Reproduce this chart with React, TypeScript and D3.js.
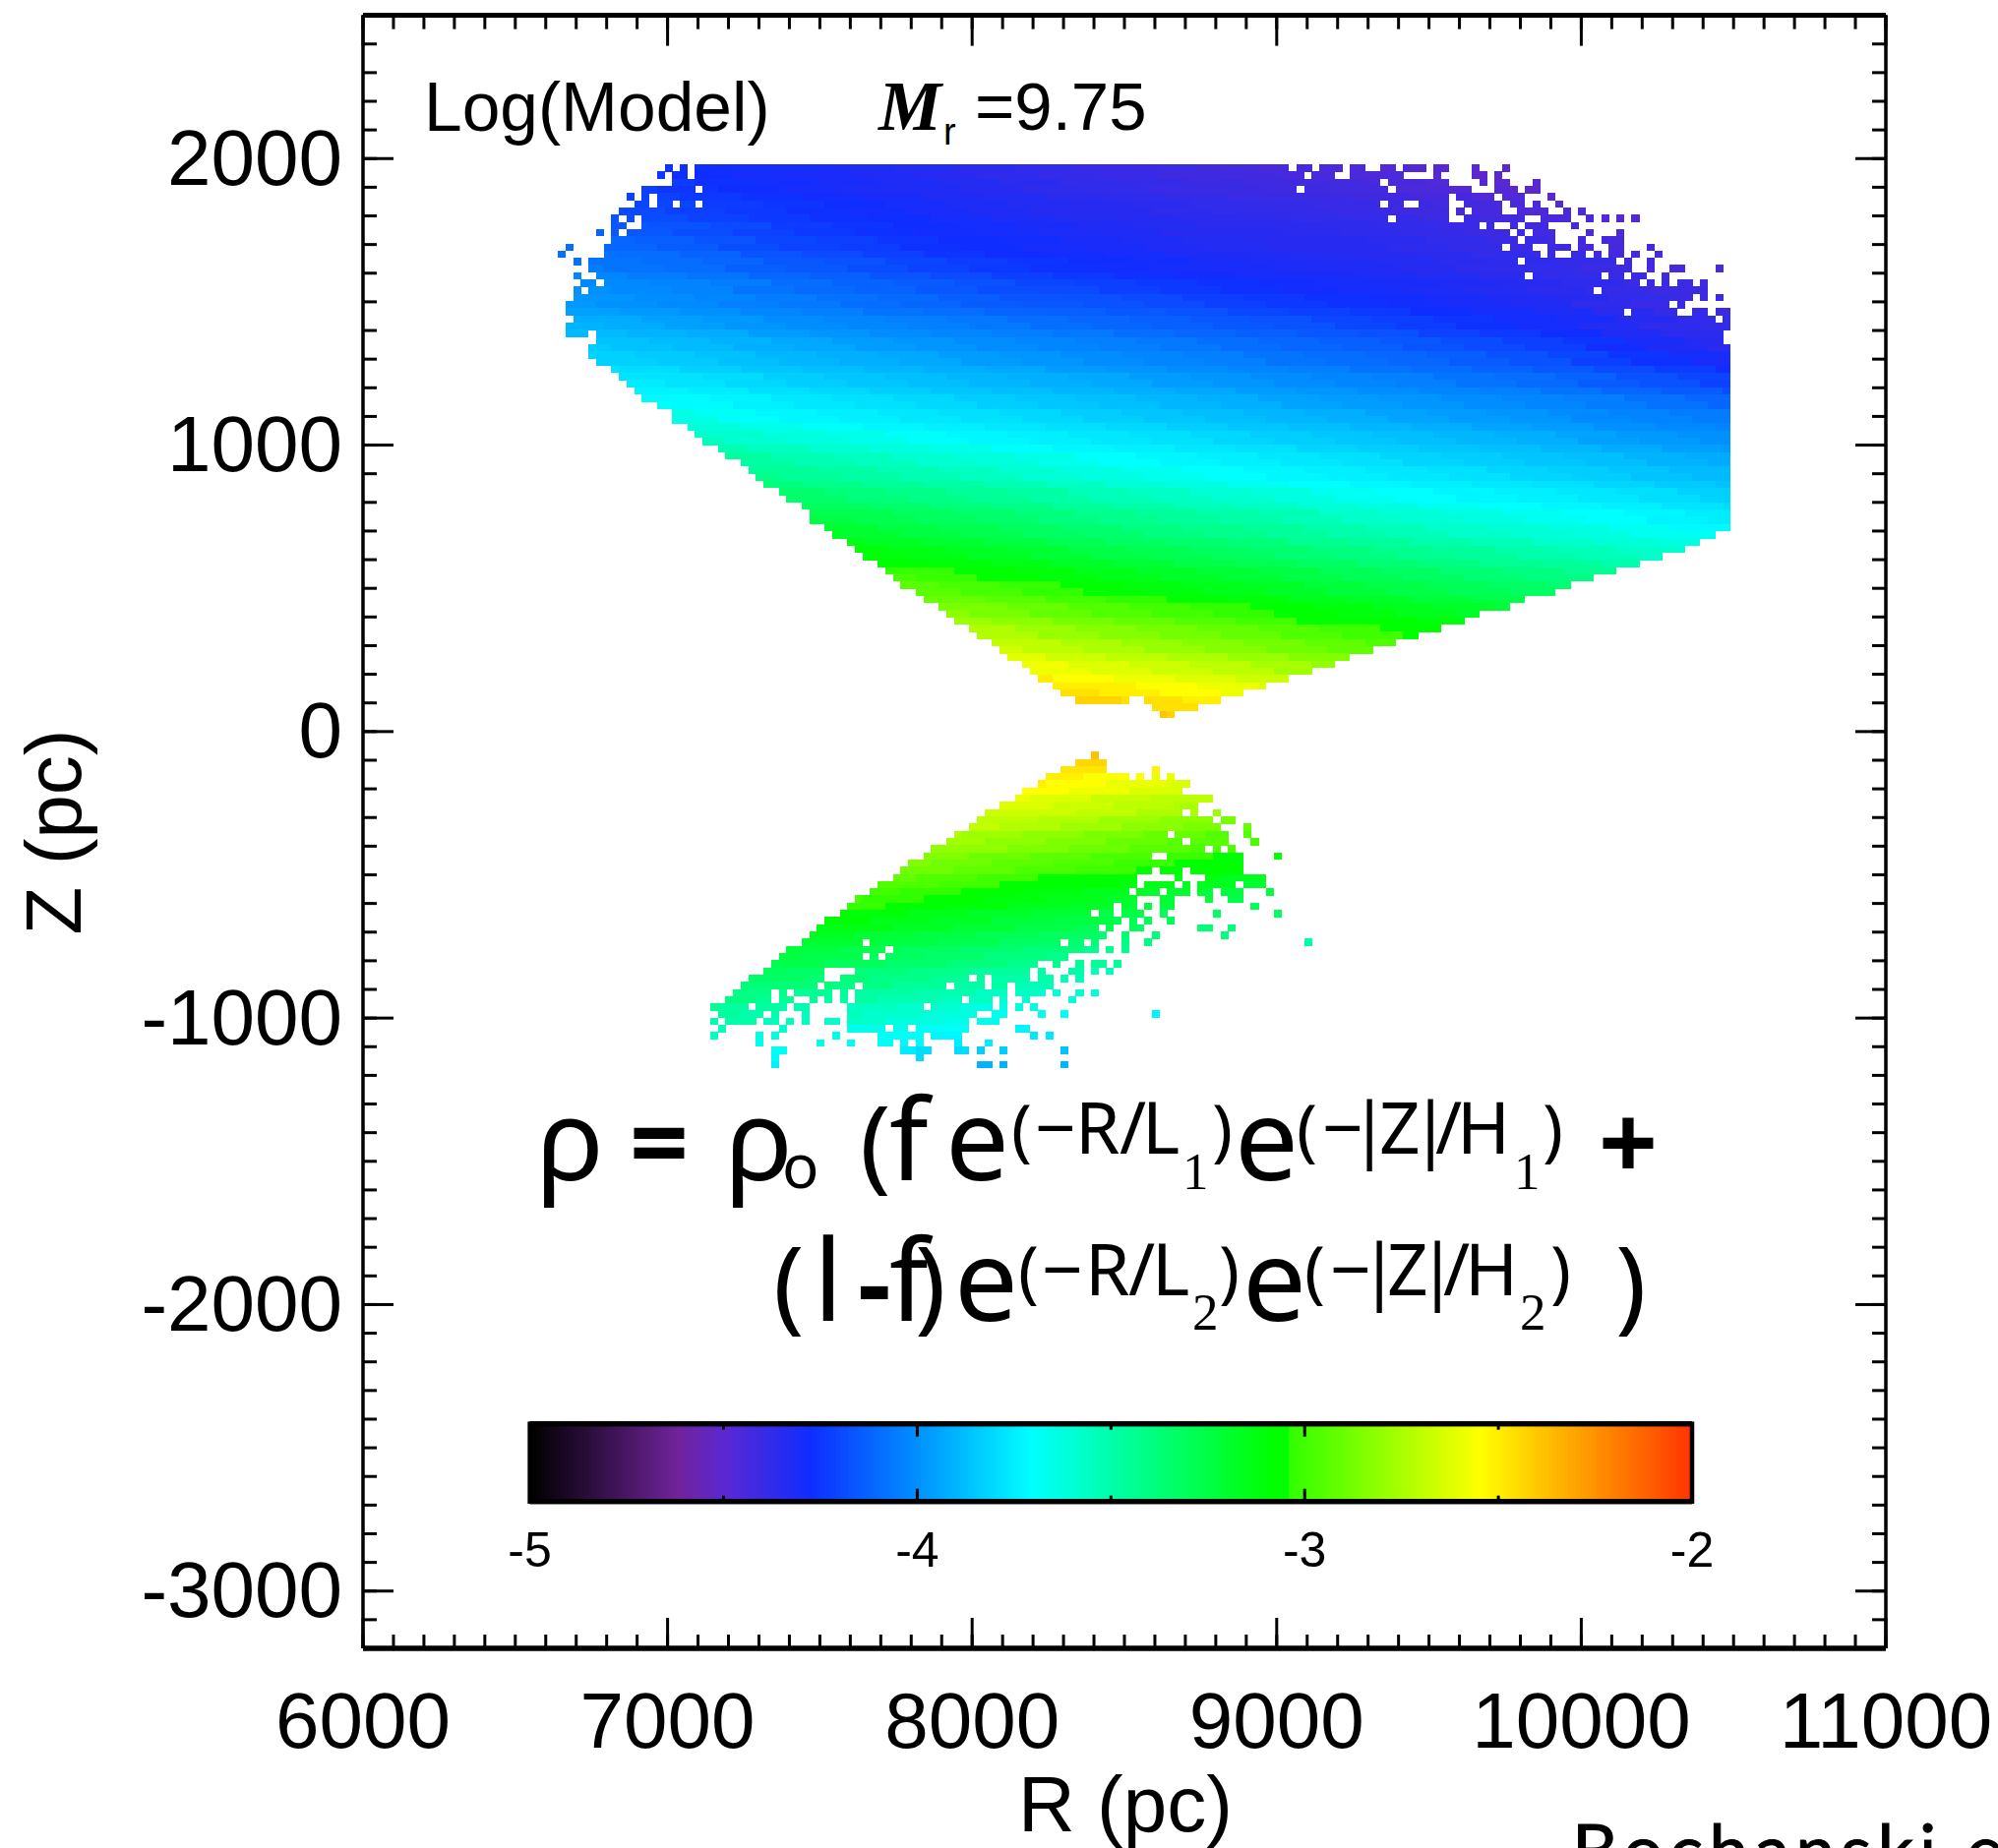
import { useEffect, useRef } from "react";
import * as d3 from "d3";

// axis ticks
const rTicks = [6000, 7000, 8000, 9000, 10000, 11000];
const zTicks = [-3000, -2000, -1000, 0, 1000, 2000];
const barTicks = [-5, -4, -3, -2];
const barMinorTicks = [-4.5, -3.5, -2.5];

const colourStops = [-5, -4.62, -4.5, -4.28, -4, -3.71, -3.09, -3.05, -3.049, -2.55, -2];
const colourValues = ["#000000", "#70239b", "#5a28d2", "#0f2dff", "#0091ff", "#00ffff", "#00ff00", "#00ff00", "#2dff00", "#ffff00", "#ff3200"];

// occupied map columns of each row, north part, top row first
const upperCols = [
  "14 16 18-95 97-98 100-102 104-105 108-109 111-113 115-116 120 124",
  "13 15-16 18-97 99-101 104-110 115 120-121 123",
  "15-107 109-116 121 123-124 128",
  "11-17 19-96 98-108 110-119 123-125 127-128",
  "9 11 13-116 118-122 124-126 130",
  "10-11 13-14 16-17 19-107 109-110 113-116 119-123 125-126 128 131",
  "8-116 118 120-123 126-129 132 134",
  "7 9 11-108 110-116 119-126 129-132 135 137 139 141",
  "7-8 11-120 122 125 127-129 133",
  "5 7 9-124 126 128-130 135 139",
  "7-125 127-130 134 137-139",
  "1 6-123 125-127 130-132 134-135 138-139 143",
  "0 6-128 130 133-134 136 138-139 141 144",
  "2 4-125 127-138 140 143",
  "4-140 143 146-147 152",
  "2 5-126 128-136 138-139 141-142 145",
  "3-4 6-141 143 145 147-148 150",
  "2 4-135 137-150",
  "2-148 150 152",
  "1-145 147",
  "1-139 141-146 149-150 152-153",
  "2-151 153",
  "1-153",
  "1-3 5-152",
  "5-152",
  "4-153", "4-153", "5-153", "7-153", "8-153", "9-153", "10-153", "11-153", "13-153", "15-153", "15-153",
  "17-153", "18-153", "19-153", "21-153", "22-153", "24-153", "25-153", "26-153", "27-153", "29-153",
  "30-153", "32-153", "33-153", "33-153", "35-153", "36-151", "38-149", "39-147", "40-144", "42-141",
  "43-138", "44-135", "45-132", "47-130", "48-126", "50-124", "51-120", "52-118", "54-115", "55-112",
  "57-109", "58-106", "59-103", "61-101", "62-98", "63-95", "65-92", "66-89", "68-74 77-86", "78-83", "79-80",
];

// -100 x log density, read every 200 pc along each north row
const upperValues = [
  [427,429,430,432,434,436,438,440,441,443,445,446,448,450,452],
  [425,428,430,431,433,435,437,439,440,442,443,445,446,449,451],
  [424,427,429,431,432,434,436,438,439,441,442,443,445,447,450,452],
  [423,426,428,430,432,433,435,437,438,440,441,442,443,446,448,451],
  [422,425,427,429,431,433,434,436,437,439,440,441,442,444,447,449],
  [421,424,426,428,430,432,434,435,436,438,439,440,441,443,445,448],
  [420,423,425,427,429,431,433,435,435,437,438,439,440,442,444,446],
  [417,419,422,425,427,428,430,432,434,435,436,437,438,439,441,443,445,448],
  [416,417,420,424,426,428,429,431,433,434,436,436,437,438,440,442,444],
  [413,416,419,422,425,427,429,430,432,433,435,435,436,437,439,441,443,446],
  [412,414,417,421,423,426,428,429,431,432,434,435,435,436,438,440,442,445],
  [410,412,415,419,422,424,427,428,430,431,433,434,435,435,437,439,441,444],
  [409,410,413,417,420,423,426,428,429,430,432,433,434,435,436,438,440,443,446],
  [408,410,412,416,418,421,424,426,428,429,431,432,433,434,436,437,439,442],
  [406,408,410,414,416,419,422,425,427,429,430,431,432,433,435,437,438,441,444,446],
  [403,406,408,412,414,417,420,423,425,427,429,430,431,432,434,436,438,440,443],
  [402,404,406,410,413,415,418,421,423,425,427,429,430,431,433,435,437,440,442],
  [400,402,404,408,411,413,416,419,420,423,425,427,429,430,432,434,436,439,441],
  [399,401,403,406,409,411,414,417,418,420,423,425,427,429,431,433,435,438,441,443],
  [398,400,402,405,407,410,412,415,416,418,420,423,425,427,429,431,433,437,440],
  [396,398,400,403,405,408,410,413,414,416,418,421,423,425,428,430,432,436,439,441],
  [393,396,398,401,403,405,407,410,412,414,416,418,421,423,426,429,431,435,438,440],
  [391,393,396,399,401,403,405,407,410,412,414,416,418,421,424,427,430,434,437,439],
  [389,391,393,397,399,401,403,405,407,410,412,414,416,418,422,425,428,433,436,438],
  [387,389,391,394,397,399,401,403,405,407,410,412,414,416,419,423,426,431,435,437],
  [385,387,389,392,394,397,399,401,403,405,407,410,412,414,417,420,423,429,433,436],
  [383,385,387,390,392,394,397,399,401,403,405,408,410,412,414,418,421,426,430,433],
  [380,383,385,388,390,392,394,397,399,401,403,405,408,410,412,415,418,423,427,431],
  [378,380,383,386,388,390,392,394,397,399,401,403,405,408,410,413,416,420,424,428],
  [378,380,384,386,388,390,392,394,397,399,401,403,405,408,410,413,418,421,425],
  [376,378,381,384,386,388,390,392,394,397,399,401,403,405,408,411,415,418,422],
  [374,376,379,381,384,386,388,390,392,394,397,399,401,403,405,408,412,415,419],
  [372,374,377,379,381,384,386,388,390,392,395,397,399,401,403,405,409,412,415],
  [369,372,375,377,379,381,384,386,388,390,392,395,397,399,401,403,406,409,412],
  [365,369,373,375,377,379,381,384,386,388,390,392,395,397,399,401,404,406,409],
  [362,365,370,373,375,377,379,381,384,386,388,390,392,395,397,399,402,404,406],
  [362,366,370,373,375,377,379,381,384,386,388,390,392,395,397,400,402,404],
  [359,363,366,370,373,375,377,379,381,384,386,388,390,392,395,398,400,402],
  [355,360,363,366,370,373,375,377,379,382,384,386,388,390,392,396,398,400],
  [352,356,360,363,366,370,373,375,377,379,382,384,386,388,390,393,396,398],
  [348,353,356,360,363,366,371,373,375,377,379,382,384,386,388,391,393,396],
  [349,353,356,360,363,367,371,373,375,377,379,382,384,386,388,391,393],
  [346,349,353,356,360,364,367,371,373,375,377,379,382,384,386,389,391],
  [342,346,349,353,356,361,364,367,371,373,375,377,379,382,384,387,389],
  [339,342,346,349,353,357,361,364,367,371,373,375,377,379,382,385,387],
  [335,339,342,346,349,354,357,361,363,368,371,373,375,377,379,383,385],
  [332,335,339,342,346,350,354,357,360,364,368,371,373,375,377,380,383],
  [332,335,339,342,347,350,354,357,361,364,368,371,373,375,378,380],
  [328,332,335,339,343,347,350,353,358,361,364,368,371,373,376,378],
  [325,328,332,335,340,343,347,350,354,358,361,364,368,371,374,376],
  [321,325,328,332,336,340,343,346,351,354,358,361,364,368,372,374],
  [318,321,325,328,333,336,340,343,347,351,354,358,361,364,368],
  [314,318,321,325,329,333,336,339,344,347,351,354,358,361,364],
  [311,314,318,321,326,329,333,336,340,344,347,351,354,358,361],
  [311,314,318,322,326,329,332,337,340,344,347,351,354,358],
  [307,311,314,319,322,326,329,333,337,340,344,347,351],
  [303,307,311,315,319,322,325,330,333,337,340,344,347],
  [299,303,307,312,315,319,322,326,330,333,337,340],
  [295,299,303,308,312,315,318,323,326,330,333,337],
  [291,295,299,304,308,312,315,319,323,326,330,333],
  [291,295,300,304,308,311,316,319,323,326],
  [287,291,296,300,304,308,312,316,319,323],
  [283,287,292,296,300,304,309,312,316,319],
  [279,283,288,292,296,300,305,309,312],
  [274,279,284,288,292,296,301,305,309],
  [270,274,280,284,288,292,297,301,305],
  [270,275,280,284,288,293,297],
  [266,271,275,280,284,289,293],
  [262,267,271,275,280,285],
  [258,263,267,271,276,281],
  [254,259,263,267,271,277],
  [250,255,259,263,267],
  [251,255,259,263],
  [247,251,255,259],
  [243,247,251],
  [243,247],
  [239,243],
];

// same thing for the south part
const lowerCols = [
  "70", "68-71", "66-71 78", "64-74 76 78 80", "63-82", "61-81", "60-85", "58-83",
  "56-81 83 86", "55-85 87-88", "54-86 90", "52-79 81-87 90", "51-81 83-87 91", "49-84 86 88",
  "48-77 80-89 94", "46-89", "45-77 79-81 83-89", "44-75 81 85-92", "42-75 77-80 82 84-88 90-92",
  "41-74 76-78 80-82 84-85 87-89 93", "39-75 79-80 85 88-89", "38-72 74-75 77 79-80 91",
  "37-69 71-72 74-76 79 86 94", "35-73 75 77 80", "34-70 72 75-76 84-85 88", "33-71 74 78 87",
  "32-39 41-65 67-68 70 74 77 98", "30-42 44-70 72 74", "29-39 41 43-66", "28-62 65 68 70-71 73",
  "27-34 39-61 63 67-68 70 72", "25-34 37-53 55 57-61 63-64 66 68", "24-33 35-38 40-50 52-55 57-58 60-64",
  "23-27 29 31-35 37 39-58 60-63 65 68 70", "22-27 29-30 33 35 37 39-52 54-56 58 61 67",
  "20-24 26-29 31-32 38-47 49-56 58 60 62", "21-26 28 32 38-54 57-58 63 66 78",
  "20 22-25 27-28 30 32 35-36 38-53 55-57", "21 29 38-42 44-45 47-53 60-61",
  "20 26 28 36 42-47 49-52 62 64", "26 34 38 42-43 45 47 52 56", "28-29 45-48 52-53 55 58 66",
  "28 47", "28 55-56 58 66",
];

const lowerValues = [
  [238], [244], [248,252], [251,256,260],
  [251,255,260,264], [255,259,264,268], [259,263,268,271], [263,267,271,275], [267,270,275,279],
  [266,271,274,279,283,288], [270,274,278,283,287,292], [273,278,282,287,291,296],
  [277,282,286,291,295,299], [281,286,290,295,298,303], [285,290,294,298,302,307],
  [285,289,294,297,302,306,310], [289,293,298,301,306,309,314], [293,297,301,305,309,313,317],
  [297,300,305,308,313,316,321], [300,304,309,312,316,320,324],
  [299,304,308,312,315,320,323,327], [303,308,311,316,319,323,326,331], [307,311,315,319,322,326,330,334],
  [310,315,318,323,325,330,333], [314,318,322,326,329,333,337,341], [317,322,325,329,332,337,340],
  [321,325,328,333,336,340,344,348,351], [321,324,328,332,336,339,344], [324,327,332,335,340,343],
  [327,331,335,339,343,346,350], [331,334,339,342,347,349,354], [334,338,342,346,350,353],
  [338,341,346,349,353,356], [337,341,345,349,352,357,360], [340,345,348,352,356,360,363],
  [344,348,351,356,359,364], [347,351,355,359,363,367,370,374], [350,355,358,363,366,370],
  [354,358,362,366,369,374], [357,362,365,369,373,377,380], [365,368,373,376,381],
  [368,372,376,380,384,387], [372,375,380], [375,379,383,387,391,390],
];

// formula glyphs, placed one by one: text, x, baseline, size, kind
const formulaGlyphs: [string, number, number, number, string][] = [
  ["ρ", 545, 1200, 115, "main"], ["=", 640, 1200, 105, "bold"], ["ρ", 737, 1200, 115, "main"],
  ["o", 795, 1208, 62, "main"], ["(", 874, 1200, 105, "main"], ["f", 904, 1200, 115, "main"], ["e", 961, 1200, 115, "main"],
  ["(", 1028, 1173, 70, "main"], ["−", 1052, 1173, 73, "main"], ["R", 1093, 1173, 73, "main"], ["/", 1138, 1173, 73, "main"],
  ["L", 1161, 1173, 73, "main"], ["1", 1202, 1209, 53, "serif"], [")", 1232, 1173, 70, "main"], ["e", 1255, 1200, 115, "main"],
  ["(", 1318, 1173, 70, "main"], ["−", 1344, 1173, 73, "main"], ["|", 1372, 1173, 73, "main"], ["Z", 1402, 1173, 73, "main"],
  ["|", 1434, 1173, 73, "main"], ["/", 1459, 1173, 73, "main"], ["H", 1481, 1173, 73, "main"], ["1", 1539, 1209, 53, "serif"],
  [")", 1568, 1173, 70, "main"], ["+", 1625, 1200, 105, "bold"],
  ["(", 786, 1343, 105, "main"], ["l", 827, 1343, 115, "main"], ["-", 872, 1343, 105, "bold"], ["f", 904, 1343, 115, "main"],
  [")", 930, 1343, 105, "main"], ["e", 970, 1343, 115, "main"],
  ["(", 1035, 1317, 70, "main"], ["−", 1059, 1317, 73, "main"], ["R", 1103, 1317, 73, "main"], ["/", 1147, 1317, 73, "main"],
  ["L", 1171, 1317, 73, "main"], ["2", 1212, 1352, 53, "serif"], [")", 1239, 1317, 70, "main"], ["e", 1263, 1343, 115, "main"],
  ["(", 1326, 1317, 70, "main"], ["−", 1352, 1317, 73, "main"], ["|", 1382, 1317, 73, "main"], ["Z", 1410, 1317, 73, "main"],
  ["|", 1441, 1317, 73, "main"], ["/", 1467, 1317, 73, "main"], ["H", 1489, 1317, 73, "main"], ["2", 1545, 1352, 53, "serif"],
  [")", 1576, 1317, 70, "main"], [")", 1642, 1343, 105, "main"],
];

const parseCols = (s: string) =>
  s.split(" ").flatMap((part) => {
    const [a, b] = part.split("-").map(Number);
    return d3.range(a, (b ?? a) + 1);
  });

const SANS = "'Liberation Sans', Arial, sans-serif";
const SERIF = "'Liberation Serif', serif";
const NOTO = "'Noto Sans', sans-serif";
const BLOCK = 8; // map columns per stored value
const COL_R0 = 6640;
const COL_W = 25;
const ROW_H = 25.1;
const UPPER_TOP = 1980;
const LOWER_TOP = -70;

const App = () => {
  const svgRef = useRef<SVGSVGElement>(null);

  useEffect(() => {
    const svg = d3.select(svgRef.current);
    svg.selectAll("*").remove();

    const x = d3.scaleLinear().domain([6000, 11000]).range([369, 1917]);
    const y = d3.scaleLinear().domain([-3200, 2500]).range([1676, 15.6]);
    const barX = d3.scaleLinear().domain([-5, -2]).range([538.6, 1720]);
    const colour = d3.scaleLinear<string>().domain(colourStops).range(colourValues).clamp(true);

    // map cells
    const cells: { r: number; z: number; v: number }[] = [];
    const addRows = (rows: string[], values: number[][], top: number) => {
      rows.forEach((row, k) => {
        const cols = parseCols(row);
        const first = Math.floor(cols[0] / BLOCK);
        const vals = values[k];
        // block edges move from row to row, otherwise they line up as vertical seams
        const stagger = ((k * 5) % BLOCK) - 4;
        cols.forEach((c) => {
          const i = Math.floor((c + stagger) / BLOCK) - first;
          const v = vals[Math.max(0, Math.min(i, vals.length - 1))];
          cells.push({ r: COL_R0 + COL_W * c, z: top - ROW_H * k, v: -v / 100 });
        });
      });
    };
    addRows(upperCols, upperValues, UPPER_TOP);
    addRows(lowerCols, lowerValues, LOWER_TOP);

    svg.append("g")
      .attr("shape-rendering", "crispEdges")
      .selectAll("rect")
      .data(cells)
      .join("rect")
      .attr("x", (d) => x(d.r))
      .attr("y", (d) => y(d.z))
      .attr("width", x(COL_W) - x(0) + 0.3)
      .attr("height", y(0) - y(ROW_H) + 0.3)
      .attr("fill", (d) => colour(d.v));

    // frame and ticks
    const minorR = d3.range(6000, 11001, 100);
    const minorZ = d3.range(-3200, 2501, 100);
    const drawAxis = (axis: any, tx: number, ty: number, domainWidth: number) => {
      const g = svg.append("g").attr("transform", `translate(${tx},${ty})`).call(axis);
      g.select(".domain").attr("stroke", "#000").attr("stroke-width", domainWidth);
      g.selectAll(".tick line").attr("stroke", "#000").attr("stroke-width", 3);
      g.selectAll(".tick text").remove();
      return g;
    };
    const ax = (gen: any, vals: number[], len: number) => gen.tickValues(vals).tickSize(len).tickSizeOuter(0).offset(0);
    // negative size puts the ticks on the inner side of the frame
    drawAxis(ax(d3.axisBottom(x), minorR, -14), 0, 1676, 5);
    drawAxis(ax(d3.axisBottom(x), rTicks, -31), 0, 1676, 5);
    drawAxis(ax(d3.axisTop(x), minorR, -14), 0, 15.6, 5);
    drawAxis(ax(d3.axisTop(x), rTicks, -31), 0, 15.6, 5);
    drawAxis(ax(d3.axisLeft(y), minorZ, -14), 369, 0, 3);
    drawAxis(ax(d3.axisLeft(y), zTicks, -31), 369, 0, 3);
    drawAxis(ax(d3.axisRight(y), minorZ, -14), 1917, 0, 3);
    drawAxis(ax(d3.axisRight(y), zTicks, -31), 1917, 0, 3);

    const label = (t: string, px: number, py: number, size: number, anchor = "start", family = SANS) =>
      svg.append("text")
        .attr("x", px).attr("y", py)
        .attr("font-family", family)
        .attr("font-size", size)
        .attr("text-anchor", anchor)
        .attr("fill", "#000")
        .text(t);

    rTicks.forEach((t) => label(String(t), x(t), 1776.5, 80, "middle"));
    zTicks.forEach((t) => label(String(t), 348, y(t) + 26.5, 80, "end"));
    label("R (pc)", 1144, 1861.5, 80, "middle");
    label("Z (pc)", 0, 0, 80, "middle").attr("transform", "translate(82,846) rotate(-90)");

    label("Log(Model)", 431, 132.5, 69.5);
    label("M", 893, 131.5, 72, "start", SERIF)
      .attr("font-weight", "bold").attr("font-style", "italic");
    label("r", 959, 147, 38);
    label("=9.75", 991, 131.5, 69);

    formulaGlyphs.forEach(([t, px, py, size, kind]) => {
      const g = label(t, px, py, size, "start", kind === "serif" ? SERIF : NOTO);
      if (kind === "bold") g.attr("font-weight", "bold");
    });

    // colour bar
    const barSteps = d3.range(-5, -2, 3 / 300);
    svg.append("g")
      .attr("shape-rendering", "crispEdges")
      .selectAll("rect")
      .data(barSteps)
      .join("rect")
      .attr("x", (d) => barX(d))
      .attr("y", 1447.7)
      .attr("width", barX(-5 + 3 / 300) - barX(-5) + 0.5)
      .attr("height", 79)
      .attr("fill", (d) => colour(d));
    const barAxis = (vals: number[], len: number, bottom: boolean) =>
      (bottom ? d3.axisBottom(barX) : d3.axisTop(barX)).tickValues(vals).tickSize(len).tickSizeOuter(0).offset(0);
    drawAxis(barAxis(barTicks, -13, true), 0, 1526.7, 5);
    drawAxis(barAxis(barMinorTicks, -6, true), 0, 1526.7, 5);
    drawAxis(barAxis(barTicks, -13, false), 0, 1447.7, 5);
    drawAxis(barAxis(barMinorTicks, -6, false), 0, 1447.7, 5);
    svg.append("rect")
      .attr("x", 538.6).attr("y", 1447.7)
      .attr("width", 1181.4).attr("height", 79)
      .attr("fill", "none").attr("stroke", "#000").attr("stroke-width", 4.5);
    barTicks.forEach((t) => label(String(t), barX(t), 1593, 50, "middle"));

    // source line, runs off the page like in the original slide
    label("Bochanski et al.", 1598, 1907, 72, "start", "Lato, sans-serif")
      .attr("letter-spacing", 6)
      .attr("stroke", "#000")
      .attr("stroke-width", 1);
  }, []);

  return (
    <svg
      ref={svgRef}
      width={2031}
      height={1879}
      style={{ position: "absolute", left: 0, top: 0, display: "block", background: "#fff" }}
    />
  );
};

export default App;
